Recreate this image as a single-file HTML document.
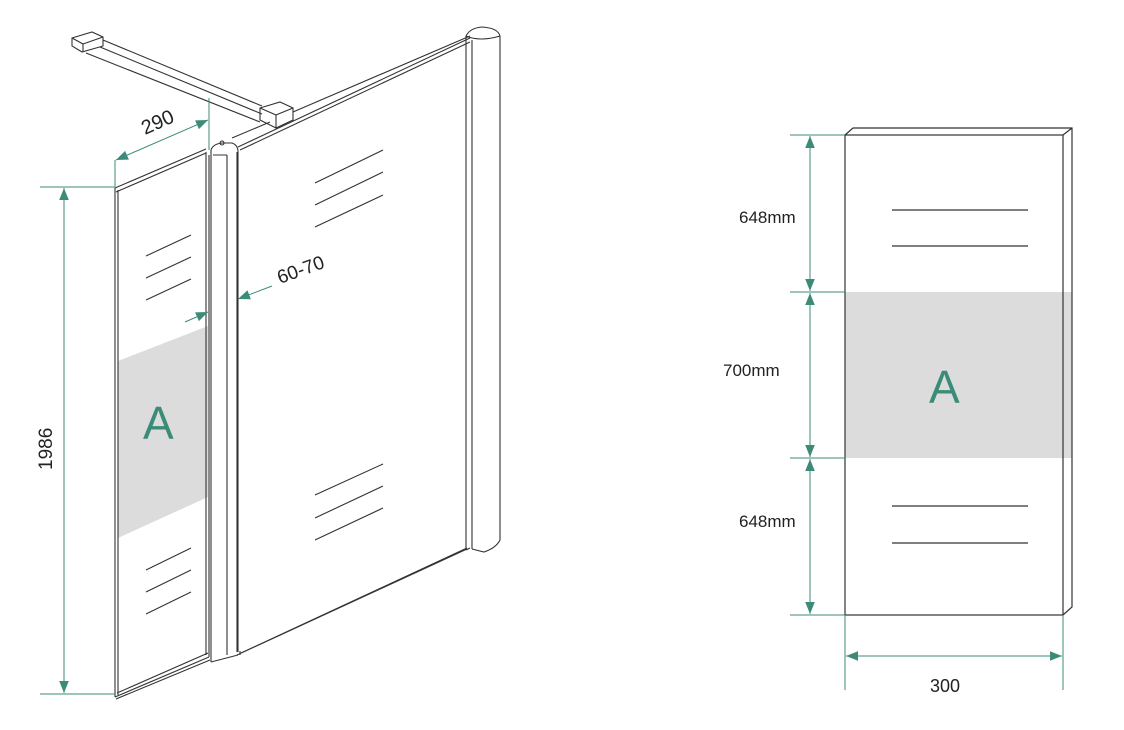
<!DOCTYPE html>
<html><head><meta charset="utf-8"><style>
html,body{margin:0;padding:0;background:#fff}
svg{display:block}
text{font-family:"Liberation Sans",sans-serif}
</style></head><body>
<svg width="1124" height="730" viewBox="0 0 1124 730" xmlns="http://www.w3.org/2000/svg">
<defs>
<marker id="ar" viewBox="0 0 10 10" refX="10" refY="5" markerWidth="12" markerHeight="12" markerUnits="userSpaceOnUse" orient="auto-start-reverse">
<path d="M0,1 L10,5 L0,9 z" fill="#3b8b78"/></marker>
</defs>
<g fill="none" stroke="#333" stroke-width="1.1">
<polygon points="118,361 208,326 208,497 118,538" fill="#dcdcdc" stroke="none"/>
<path d="M115,188 L115,697 M118,190 L118,695 M115,188 L206,149 M116,192 L206,153 M115,697 L209,657 M117,693 L208,653 M116,699 L210,660 M209,155 L209,657 M206,152 L206,655"/>
<path d="M211,150 Q213,144 222,143 L232,143 Q238,145 238,152 L238,652 M211,150 L211,662 M213,155 L227,155 M227,155 L227,655 M211,662 L238,655"/>
<circle cx="222" cy="143" r="2"/>
<path d="M237,152 L237,652 M241,653 L467,548 M237,655 L467,549 M240,651 L240,655 M238,147 L470,38 M240,150 L470,42"/>
<path d="M466,36 Q470,28 482,27 Q498,28 500,36 L500,540 Q496,548 484,552 L472,549 M466,36 L466,550 M472,40 L472,549 M466,36 Q480,42 500,36 M466,550 L470,548"/>
<path d="M72,38 L92,32 L103,37 L103,46 L82,52 L72,46 Z M72,38 L83,44 L83,52 M83,44 L103,37 M103,40 L262,106 M86,53 L260,122 M100,47 L262,114 M260,108 L280,102 L293,108 L293,120 L276,128 L260,120 Z M260,108 L276,115 L276,128 M276,115 L293,108 M270,122 L232,138 M293,112 L470,36"/>
<path d="M146,256 L191,235 M146,278 L191,257 M146,300 L191,279 M146,570 L191,548 M146,592 L191,570 M146,614 L191,592 M315,183 L383,150 M315,205 L383,172 M315,227 L383,195 M315,495 L383,464 M315,518 L383,486 M315,540 L383,508"/>
</g>
<rect x="845" y="292" width="227" height="166" fill="#dcdcdc"/>
<g fill="none" stroke="#333" stroke-width="1.2">
<rect x="845" y="135" width="218" height="480"/>
<path d="M845,135 L853,128 L1072,128 L1072,607 L1063,615 M1063,135 L1072,128 M892,210 L1028,210 M892,246 L1028,246 M892,506 L1028,506 M892,543 L1028,543"/>
</g>
<g stroke="#3b8b78" stroke-width="1" fill="none">
<line x1="40" y1="187" x2="115" y2="187"/>
<line x1="40" y1="694" x2="115" y2="694"/>
<line x1="64" y1="188" x2="64" y2="693" marker-start="url(#ar)" marker-end="url(#ar)"/>
<line x1="115" y1="160" x2="115" y2="187"/>
<line x1="209" y1="98" x2="209" y2="150"/>
<line x1="116" y1="160" x2="208" y2="120" marker-start="url(#ar)" marker-end="url(#ar)"/>
<line x1="185" y1="322" x2="208" y2="312" marker-end="url(#ar)"/>
<line x1="272" y1="286" x2="238" y2="299" marker-end="url(#ar)"/>
<line x1="790" y1="135" x2="845" y2="135"/>
<line x1="790" y1="292" x2="845" y2="292"/>
<line x1="790" y1="458" x2="845" y2="458"/>
<line x1="790" y1="615" x2="845" y2="615"/>
<line x1="810" y1="136" x2="810" y2="291" marker-start="url(#ar)" marker-end="url(#ar)"/>
<line x1="810" y1="293" x2="810" y2="457" marker-start="url(#ar)" marker-end="url(#ar)"/>
<line x1="810" y1="459" x2="810" y2="614" marker-start="url(#ar)" marker-end="url(#ar)"/>
<line x1="845" y1="615" x2="845" y2="690"/>
<line x1="1063" y1="615" x2="1063" y2="690"/>
<line x1="846" y1="656" x2="1062" y2="656" marker-start="url(#ar)" marker-end="url(#ar)"/>
</g>
<g fill="#222" font-size="17">
<text x="0" y="0" font-size="20" transform="translate(145,135) rotate(-24)">290</text>
<text x="0" y="0" font-size="19" transform="translate(280,284) rotate(-20)">60-70</text>
<text x="0" y="0" font-size="19" transform="translate(52,470) rotate(-90)">1986</text>
<text x="739" y="223">648mm</text>
<text x="723" y="376">700mm</text>
<text x="739" y="527">648mm</text>
<text x="930" y="692" font-size="18">300</text>
</g>
<text x="143" y="439" font-size="46" fill="#3b8b78">A</text>
<text x="929" y="403" font-size="46" fill="#3b8b78">A</text>
</svg>
</body></html>
